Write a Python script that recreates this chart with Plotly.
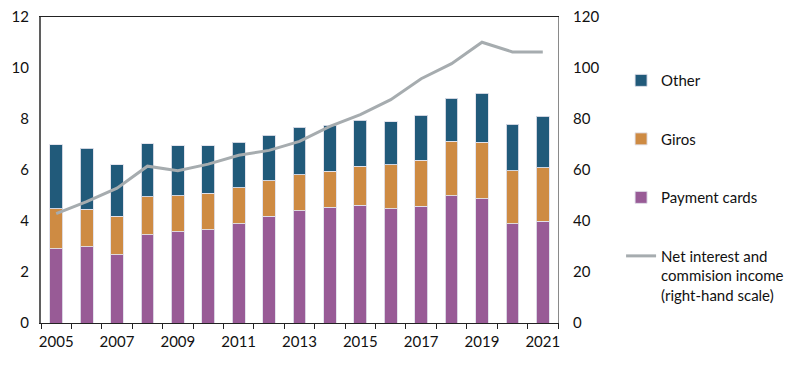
import plotly.graph_objects as go

years = list(range(2005, 2022))
payment_cards = [2.92, 3.00, 2.67, 3.46, 3.57, 3.66, 3.90, 4.18, 4.41, 4.53, 4.61, 4.49, 4.57, 5.00, 4.88, 3.90, 3.99]
giros = [1.56, 1.46, 1.51, 1.49, 1.42, 1.42, 1.41, 1.40, 1.40, 1.43, 1.54, 1.71, 1.82, 2.12, 2.21, 2.08, 2.10]
other = [2.51, 2.40, 2.02, 2.07, 1.96, 1.87, 1.77, 1.78, 1.86, 1.79, 1.81, 1.69, 1.76, 1.70, 1.92, 1.82, 2.01]
net_income = [42.9, 47.6, 52.9, 61.5, 59.7, 62.3, 65.8, 67.7, 71.2, 77.1, 81.7, 87.6, 95.8, 101.7, 110.1, 106.3, 106.3]
left_ticks = [0, 2, 4, 6, 8, 10, 12]
right_ticks = [0, 20, 40, 60, 80, 100, 120]
x_labels = [2005, 2007, 2009, 2011, 2013, 2015, 2017, 2019, 2021]

FONT = "Lato"
fig = go.Figure()
bar_line = dict(color="rgba(225,225,235,0.9)", width=1)
fig.add_trace(go.Bar(x=years, y=payment_cards, name="Payment cards", marker=dict(color="#985B96", line=bar_line),
                     legendrank=3, legendgroup="c"))
fig.add_trace(go.Bar(x=years, y=giros, name="Giros", marker=dict(color="#CE8B43", line=bar_line),
                     legendrank=2, legendgroup="b"))
fig.add_trace(go.Bar(x=years, y=other, name="Other", marker=dict(color="#215A7A", line=bar_line),
                     legendrank=1, legendgroup="a"))
fig.add_trace(go.Scatter(x=years, y=net_income, yaxis="y2", mode="lines",
                         name="Net interest and<br>commision income<br>(right-hand scale)",
                         line=dict(color="#A6ACAF", width=3), legendrank=4, legendgroup="d"))

fig.update_layout(
    width=797, height=365,
    margin=dict(l=41, r=239, t=17, b=42, autoexpand=False),
    paper_bgcolor="white", plot_bgcolor="white",
    font=dict(family=FONT, size=15, color="#111111"),
    barmode="stack", bargap=0.58,
    showlegend=True,
    legend=dict(x=1.122, y=0.846, xanchor="left", yanchor="top", tracegroupgap=36,
                valign="top", itemwidth=30, font=dict(size=15), bgcolor="rgba(0,0,0,0)"),
    xaxis=dict(range=[2004.5, 2021.5], tickvals=x_labels, ticks="", showgrid=False,
               showline=True, linecolor="#222222", linewidth=1, mirror=True, automargin=False,
               minor=dict(ticks="outside", tick0=2004.5, dtick=1, ticklen=5, tickcolor="#222222"),
               ticklabelstandoff=5, tickfont=dict(size=15), zeroline=False),
    yaxis=dict(range=[0, 12], tickvals=left_ticks, showgrid=False, zeroline=False, automargin=False,
               showline=True, linecolor="#5f5f5f", linewidth=2, ticks="", ticklabelstandoff=7,
               tickfont=dict(size=15)),
    yaxis2=dict(range=[0, 120], tickvals=right_ticks, overlaying="y", side="right", showgrid=False,
                zeroline=False, showline=True, linecolor="#8a8a8a", linewidth=1, ticks="",
                automargin=False, ticklabelstandoff=11, tickfont=dict(size=15)),
)
fig.write_html("out.html", config={"displayModeBar": False},
               post_script="document.body.style.margin='0px';")
